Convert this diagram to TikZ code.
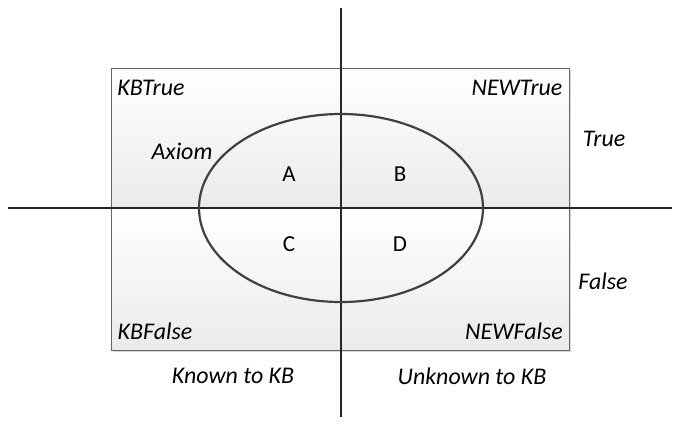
\documentclass[tikz,border=0pt]{standalone}
\usepackage{fontspec}
\setmainfont{Carlito}
\usetikzlibrary{shadows}
\begin{document}
\begin{tikzpicture}[x=1bp,y=-1bp,
  half/.style={draw=black!60,line width=1bp,top color=white,bottom color=black!8,
     drop shadow={shadow xshift=2bp,shadow yshift=-2bp,opacity=0.25,fill=black!60}},
  axis/.style={draw=black!85,line width=1.1bp},
  lbl/.style={font=\fontsize{24}{28}\selectfont\itshape,inner sep=0pt},
  let/.style={font=\fontsize{23}{27}\selectfont,inner sep=0pt}]
\useasboundingbox (0,0) rectangle (699,425);
\path[half] (111,68) rectangle (569,208);
\path[half] (111,208) rectangle (569,350);
\coordinate (vt) at (341,8);
\coordinate (vb) at (341,417);
\coordinate (hl) at (8,208);
\coordinate (hr) at (672,208);
\draw[axis] (vt) -- (vb);
\draw[axis] (hl) -- (hr);
\draw[draw=black!75,line width=2.2bp] (341,208) ellipse [x radius=142, y radius=94];
\node[lbl] (kbt) at (151,88) {KBTrue};
\node[lbl] (nwt) at (517,88) {NEWTrue};
\node[lbl] (ax) at (182,151) {Axiom};
\node[let] (a) at (289,174) {A};
\node[let] (b) at (400,174) {B};
\node[let] (c) at (289,244) {C};
\node[let] (d) at (400,244) {D};
\node[lbl] (tr) at (604,139) {True};
\node[lbl] (fa) at (603,281) {False};
\node[lbl] (kbf) at (155,331) {KBFalse};
\node[lbl] (nwf) at (514,331) {NEWFalse};
\node[lbl] (kn) at (233,376) {Known to KB};
\node[lbl] (ukn) at (472,376) {Unknown to KB};
\end{tikzpicture}
\end{document}
